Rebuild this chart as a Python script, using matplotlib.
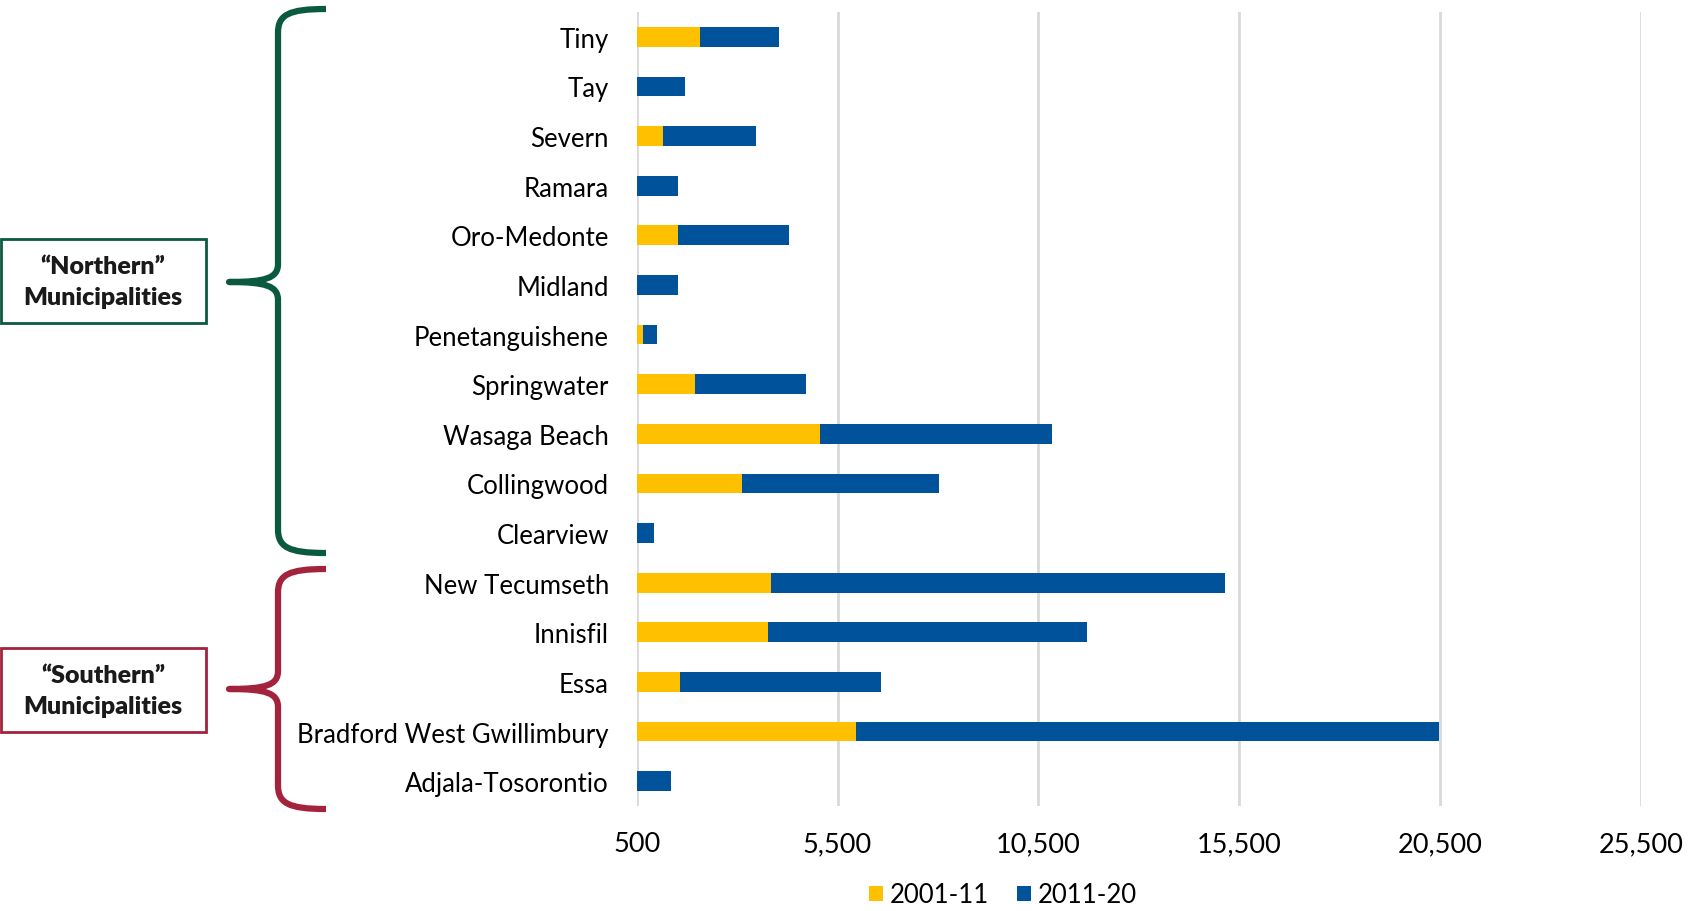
import matplotlib
matplotlib.use("Agg")
import matplotlib.pyplot as plt
from matplotlib.path import Path
from matplotlib.patches import PathPatch, Rectangle
from matplotlib.ticker import FuncFormatter
import numpy as np

plt.rcParams["font.family"] = ["Lato", "DejaVu Sans"]

# -- Data ---------------------------------------------------
municipalities = [
    "Tiny", "Tay", "Severn", "Ramara", "Oro-Medonte", "Midland",
    "Penetanguishene", "Springwater", "Wasaga Beach", "Collingwood",
    "Clearview", "New Tecumseth", "Innisfil", "Essa",
    "Bradford West Gwillimbury", "Adjala-Tosorontio",
]
growth_2001_11 = [2076, 0, 1155, 0, 1528, 0, 657, 1952, 5065, 3122,
                  0, 3844, 3762, 1578, 5961, 0]
growth_2011_20 = [1967, 1703, 2316, 1528, 2764, 1528, 348, 2764, 5776, 4906,
                  931, 11297, 7951, 4998, 14509, 1354]
series_labels = ["2001-11", "2011-20"]
x_ticks = [500, 5500, 10500, 15500, 20500, 25500]
groups = ["\u201cNorthern\u201d\nMunicipalities", "\u201cSouthern\u201d\nMunicipalities"]

YELLOW = "#FFC000"
BLUE = "#00529B"
GREEN = "#0B5A3F"
RED = "#A3233C"

W, H = 1691, 912
fig = plt.figure(figsize=(W / 100, H / 100), dpi=100)

# main bar axes, placed in pixel units
left, right, top, bottom = 636.7, 1640.7, 13, 807
ax = fig.add_axes([left / W, 1 - bottom / H, (right - left) / W, (bottom - top) / H])

y = np.arange(len(municipalities))
a = np.array(growth_2001_11)
b = np.array(growth_2011_20)
ax.barh(y, a, height=0.4, color=YELLOW, label=series_labels[0], zorder=2)
ax.barh(y, b, left=a, height=0.4, color=BLUE, label=series_labels[1], zorder=2)

ax.set_xlim(x_ticks[0], x_ticks[-1])
ax.set_ylim(len(municipalities) - 0.5, -0.5)
ax.set_xticks(x_ticks)
ax.xaxis.set_major_formatter(FuncFormatter(lambda v, p: f"{v:,.0f}"))
ax.set_yticks(y)
ax.set_yticklabels(municipalities)
ax.tick_params(axis="y", length=0, pad=20, labelsize=18.5)
ax.tick_params(axis="x", length=0, pad=18, labelsize=19.5)
ax.grid(axis="x", color="#D9D9D9", linewidth=2, zorder=0)
for s in ax.spines.values():
    s.set_visible(False)

fig.legend(loc="center", bbox_to_anchor=(1003 / W, 1 - 896 / H), ncol=2,
           frameon=False, fontsize=18.5, handlelength=0.55, handleheight=0.55,
           handletextpad=0.25, columnspacing=1.1, borderaxespad=0,
           borderpad=0.1)

# -- Group braces and boxes (pixel overlay) -----------------
ov = fig.add_axes([0, 0, 1, 1], zorder=5)
ov.set_xlim(0, W)
ov.set_ylim(H, 0)
ov.axis("off")
ov.patch.set_alpha(0)


def brace(y0, y1, ym, color, xe=326, xv=278, xt=229, r=24):
    verts = [
        (xe, y0),
        (xv + 10, y0), (xv, y0 + 6), (xv, y0 + r),
        (xv, ym - 18),
        (xv, ym - 4), (xv - 12, ym), (xt, ym),
        (xv - 12, ym), (xv, ym + 4), (xv, ym + 18),
        (xv, y1 - r),
        (xv, y1 - 6), (xv + 10, y1), (xe, y1),
    ]
    codes = [Path.MOVETO,
             Path.CURVE4, Path.CURVE4, Path.CURVE4,
             Path.LINETO,
             Path.CURVE4, Path.CURVE4, Path.CURVE4,
             Path.CURVE4, Path.CURVE4, Path.CURVE4,
             Path.LINETO,
             Path.CURVE4, Path.CURVE4, Path.CURVE4]
    ov.add_patch(PathPatch(Path(verts, codes), fill=False, edgecolor=color,
                           linewidth=4.5, capstyle="butt", joinstyle="round"))


brace(10, 554, 283, GREEN)
brace(570, 810, 690, RED)

for (y0, y1), label, color in zip([(240, 324), (649, 733)], groups, [GREEN, RED]):
    ov.add_patch(Rectangle((1, y0), 205, y1 - y0, fill=False, edgecolor=color,
                           linewidth=2))
    ov.text(103, (y0 + y1) / 2 + 1, label, ha="center", va="center",
            fontsize=18, fontweight="heavy", linespacing=1.5, color="#1A1A1A")

fig.savefig("out.png", dpi=100)
